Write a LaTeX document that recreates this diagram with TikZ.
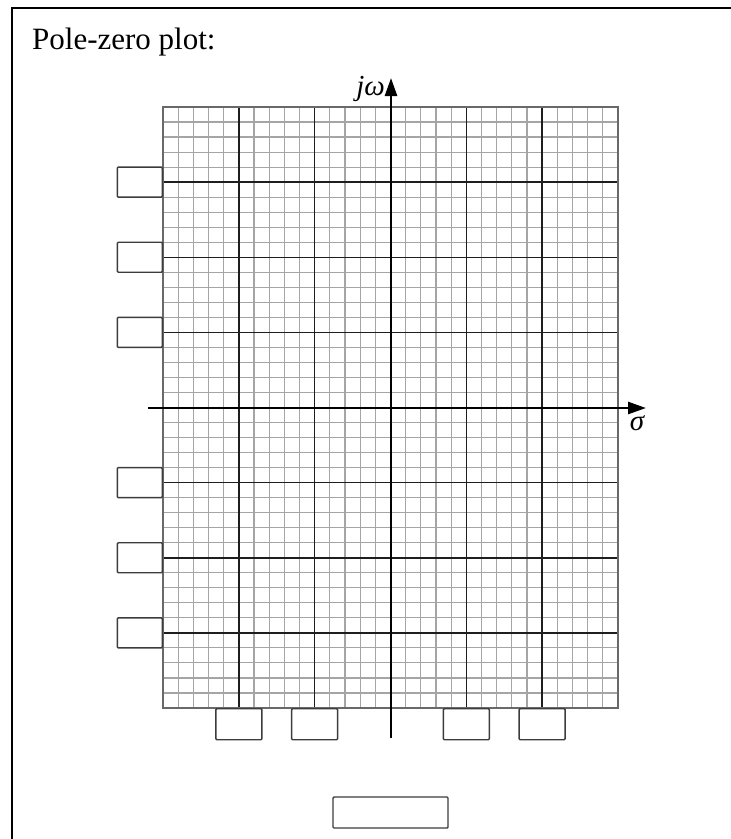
\documentclass[tikz,border=0pt]{standalone}
\usepackage{fontspec}
\setmainfont{Liberation Serif}
\usepackage{tikz}
\usetikzlibrary{arrows.meta,positioning}
\definecolor{gMinor}{RGB}{165,165,165}
\definecolor{gMajor}{RGB}{30,30,30}
\definecolor{gEdge}{RGB}{105,105,105}
\definecolor{bLine}{RGB}{60,60,60}
\tikzset{
  frameline/.style={draw=black, line width=2pt},
  minorline/.style={draw=gMinor, line width=1.1pt},
  majorline/.style={draw=gMajor, line width=1.5pt},
  gridedge/.style={draw=gEdge, line width=1.6pt},
  axisline/.style={-{Triangle[length=18pt,width=12pt]}, draw=black, line width=2.6pt},
  axlbl/.style={font=\fontsize{29}{33}\selectfont\itshape, inner sep=0pt},
  ttl/.style={font=\fontsize{31}{36}\selectfont, inner sep=0pt},
  ansbox/.style={rectangle, rounded corners=1pt, draw=bLine, fill=white,
                 line width=1.4pt, inner sep=0pt, minimum width=45pt,
                 minimum height=30pt},
  widebox/.style={ansbox, minimum width=115pt, minimum height=31pt},
}

\begin{document}
\begin{tikzpicture}[x=1pt,y=-1pt]
  \useasboundingbox (0,0) rectangle (731,839);
  \draw[frameline] (731,8) -- (12,8) -- (12,839);
  \node[ttl,anchor=base west] (title) at (32,49) {Pole-zero plot:};

  % grid: 6 x 8 major squares, 5 minor steps each
  \foreach \i in {0,...,30}
    \draw[minorline] ({163+\i/30*455},107) -- ++(0,601);
  \foreach \j in {0,...,40}
    \draw[minorline] (163,{107+\j/40*601}) -- ++(455,0);
  \foreach \i in {1,2,4,5}
    \draw[majorline] ({163+\i/6*455},107) -- ++(0,601);
  \foreach \j in {1,2,3,5,6,7}
    \draw[majorline] (163,{107+\j/8*601}) -- ++(455,0);
  \draw[gridedge] (163,107) rectangle (618,708);

  % axes
  \coordinate (wfoot) at (391,738);
  \coordinate (wtip) at (391,78);
  \coordinate (sfoot) at (148,408);
  \coordinate (stip) at (646,408);
  \draw[axisline] (wfoot) -- (wtip);
  \draw[axisline] (sfoot) -- (stip);
  \node[axlbl,anchor=east] (jw) at (385,89) {jω};
  \node[axlbl] (sig) at (637,423) {σ};

  % answer boxes on the jw side
  \foreach \j/\n in {1/a,2/b,3/c,5/d,6/e,7/f}
    \node[ansbox,anchor=east] (im\n) at (163,{107+\j/8*601}) {};
  % answer boxes on the sigma side
  \foreach \i/\n in {1/a,2/b,4/c,5/d}
    \node[ansbox,anchor=north,minimum width=46pt,minimum height=31pt]
      (re\n) at ({163+\i/6*455},708) {};
  \node[widebox] (gain) at (390.5,812.5) {};
\end{tikzpicture}
\end{document}
